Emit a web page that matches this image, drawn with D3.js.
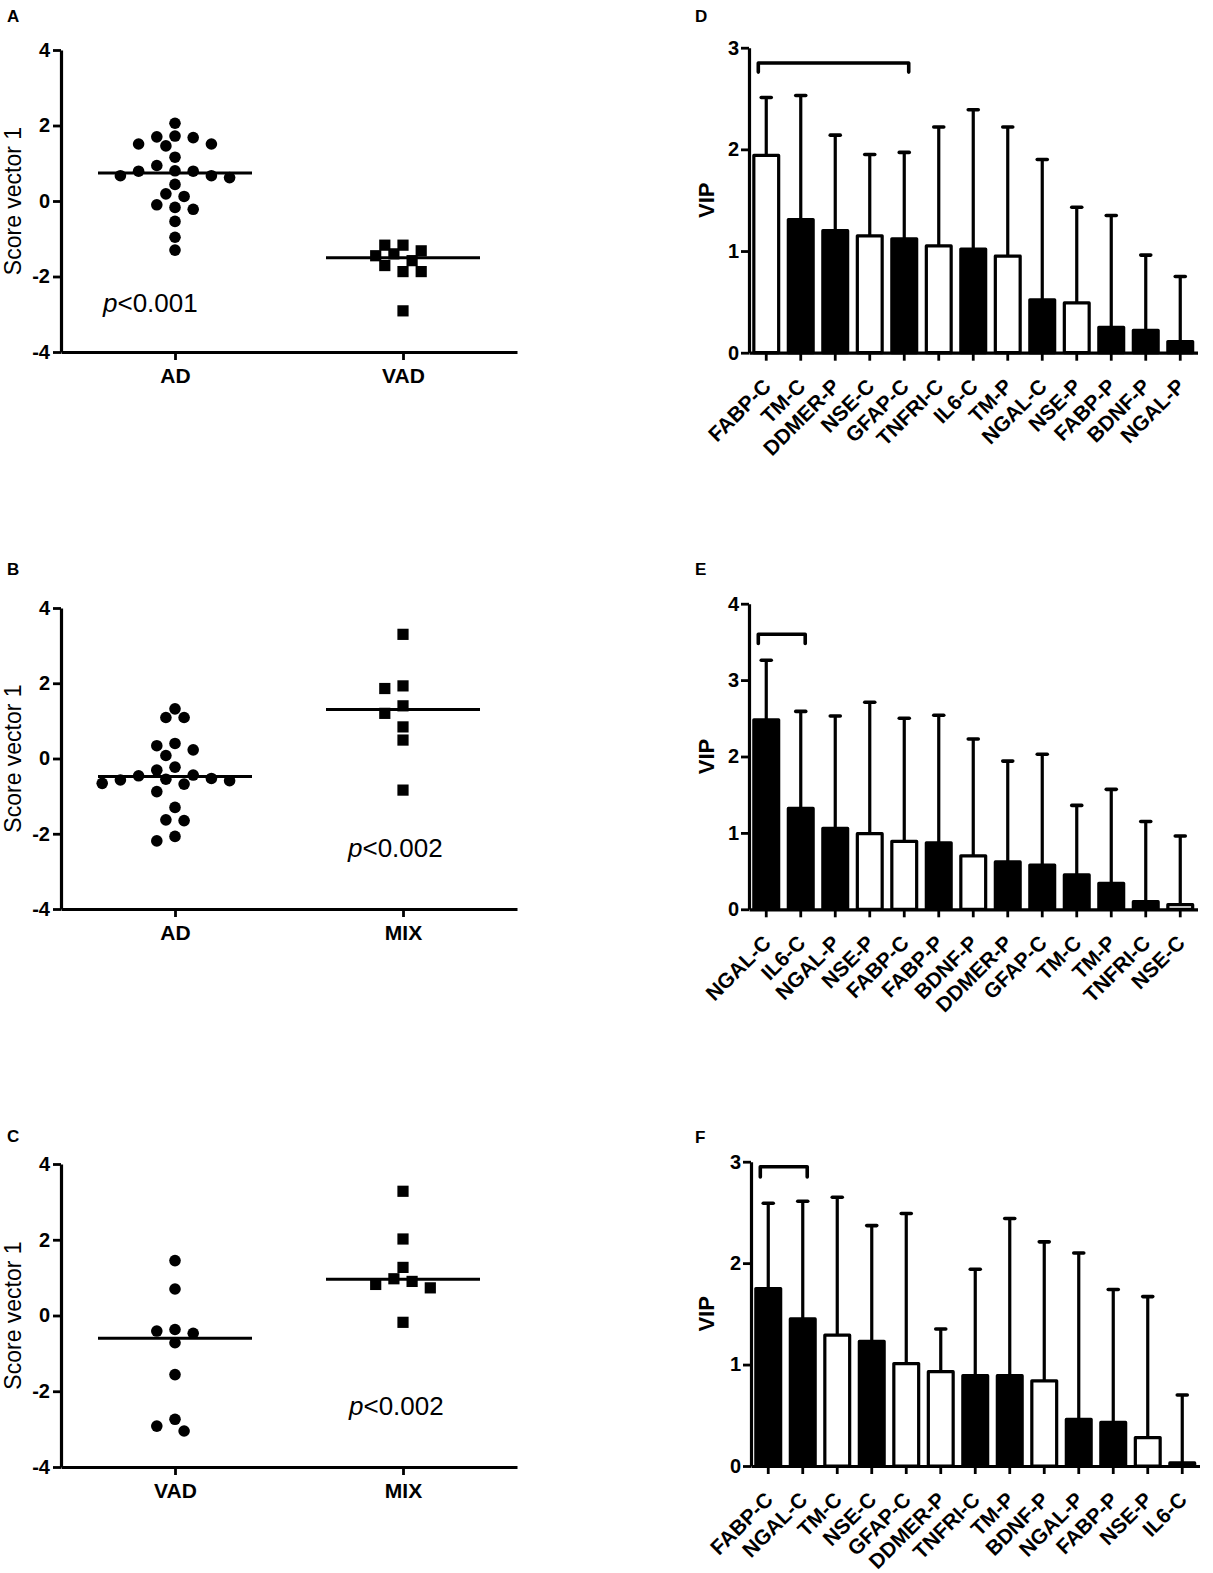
<!DOCTYPE html>
<html>
<head>
<meta charset="utf-8">
<script src="https://cdn.jsdelivr.net/npm/d3@7"></script>
<style>
  body { margin: 0; background: #fff; }
  text { font-family: 'Liberation Sans', Arial, Helvetica, sans-serif; }
</style>
</head>
<body>
<svg id="fig" width="1213" height="1573"></svg>
<script>
// ---- data ----
var scoreTicks = [-4, -2, 0, 2, 4];

// A: AD vs VAD
var groupsA = ["AD", "VAD"];
var scoresA_AD = [2.06, 1.51, 1.70, 1.68, 1.46, 1.72, 1.51, 1.16, 0.80, 0.79, 0.67, 0.44, 0.62, 0.67, 0.79, 0.94,
                  -0.10, -0.22, 0.12, 0.19, -0.17, -0.54, -0.96, -1.30];
var scoresA_VAD = [-1.40, -1.58, -1.17, -1.32, -1.17, -1.87, -1.87, -1.71, -1.45, -2.91];
var mediansA = [0.74, -1.50];

// B: AD vs MIX
var groupsB = ["AD", "MIX"];
var scoresB_AD = [1.09, 1.09, 1.32, 0.40, 0.23, 0.34, 0.08, -0.23, -0.31, -0.53, -0.57, -0.66, -0.46, -0.68,
                  -0.59, -0.55, -0.44, -0.88, -1.30, -1.63, -1.65, -2.19, -2.07];
var scoresB_MIX = [3.30, 1.93, 1.86, 1.40, 1.20, 0.84, 0.49, -0.84];
var mediansB = [-0.48, 1.30];

// C: VAD vs MIX
var groupsC = ["VAD", "MIX"];
var scoresC_VAD = [1.45, 0.70, -0.41, -0.47, -0.37, -0.72, -1.56, -2.74, -2.92, -3.05];
var scoresC_MIX = [3.28, 2.02, 1.27, 0.97, 0.90, 0.82, 0.73, -0.18];
var mediansC = [-0.60, 0.96];

// D
var markersD = ["FABP-C", "TM-C", "DDMER-P", "NSE-C", "GFAP-C", "TNFRI-C", "IL6-C", "TM-P", "NGAL-C", "NSE-P", "FABP-P", "BDNF-P", "NGAL-P"];
var vipD = [1.94, 1.31, 1.20, 1.15, 1.12, 1.05, 1.02, 0.95, 0.52, 0.49, 0.25, 0.22, 0.11];
var vipUpperD = [2.51, 2.53, 2.14, 1.95, 1.97, 2.22, 2.39, 2.22, 1.90, 1.43, 1.35, 0.96, 0.75];
var kindD = [0, 1, 1, 0, 1, 0, 1, 0, 1, 0, 1, 1, 1];
var vipTicksD = [0, 1, 2, 3];

// E
var markersE = ["NGAL-C", "IL6-C", "NGAL-P", "NSE-P", "FABP-C", "FABP-P", "BDNF-P", "DDMER-P", "GFAP-C", "TM-C", "TM-P", "TNFRI-C", "NSE-C"];
var vipE = [2.48, 1.32, 1.06, 0.99, 0.89, 0.87, 0.70, 0.62, 0.58, 0.45, 0.34, 0.10, 0.06];
var vipUpperE = [3.26, 2.59, 2.53, 2.71, 2.50, 2.54, 2.23, 1.94, 2.03, 1.36, 1.57, 1.15, 0.96];
var kindE = [1, 1, 1, 0, 0, 1, 0, 1, 1, 1, 1, 1, 0];
var vipTicksE = [0, 1, 2, 3, 4];

// F
var markersF = ["FABP-C", "NGAL-C", "TM-C", "NSE-C", "GFAP-C", "DDMER-P", "TNFRI-C", "TM-P", "BDNF-P", "NGAL-P", "FABP-P", "NSE-P", "IL6-C"];
var vipF = [1.75, 1.45, 1.29, 1.23, 1.01, 0.93, 0.89, 0.89, 0.84, 0.46, 0.43, 0.28, 0.03];
var vipUpperF = [2.59, 2.61, 2.65, 2.37, 2.49, 1.35, 1.94, 2.44, 2.21, 2.10, 1.74, 1.67, 0.70];
var kindF = [1, 1, 0, 1, 0, 0, 1, 1, 0, 1, 1, 0, 1];
var vipTicksF = [0, 1, 2, 3];

// ---- drawing ----
var svg = d3.select("#fig");
var fillScale = d3.scaleOrdinal().domain([0, 1]).range(["#fff", "#000"]);

function panelLetter(letter, x, y) {
  svg.append("text")
    .attr("x", x).attr("y", y)
    .attr("font-size", 17).attr("font-weight", "bold")
    .text(letter);
}

function styleAxis(g) {
  g.attr("font-family", null).attr("font-size", null);
  g.select(".domain").attr("stroke-width", 3.2);
  g.selectAll(".tick line").attr("stroke-width", 2.8);
  g.selectAll(".tick text")
    .attr("font-size", 20)
    .attr("font-weight", "bold")
    .attr("fill", "#000");
}

// simple dot-plot spreading: keep the value, shift sideways until no overlap
function swarm(vals, y, cx) {
  var step = 9.1, minD = 12.5;
  var order = vals.map(function(v) { return { v: v, y: y(v) }; })
                  .sort(function(a, b) { return b.v - a.v; });
  var placed = [];
  order.forEach(function(p) {
    for (var k = 0; k < 60; k++) {
      var off = k == 0 ? 0 : (k % 2 == 1 ? -(k + 1) / 2 : k / 2);
      var px = cx + off * step;
      var hit = placed.some(function(q) {
        var dx = q.x - px, dy = q.y - p.y;
        return dx * dx + dy * dy < minD * minD;
      });
      if (!hit) { p.x = px; break; }
    }
    placed.push(p);
  });
  return placed;
}

function drawScatter(p) {
  var x = d3.scalePoint().domain(p.groups).range([p.left, p.right]).padding(0.5);
  var y = d3.scaleLinear().domain([-4, 4]).range([p.bottom, p.top]);
  var g = svg.append("g");

  var ya = g.append("g")
    .attr("transform", "translate(" + p.left + ",0)")
    .call(d3.axisLeft(y).tickValues(scoreTicks).tickSize(8).tickSizeOuter(0).tickPadding(3)
      .tickFormat(function(d) { return String(d); }));
  styleAxis(ya);

  var xa = g.append("g")
    .attr("transform", "translate(0," + p.bottom + ")")
    .call(d3.axisBottom(x).tickSize(8).tickSizeOuter(0).tickPadding(8));
  styleAxis(xa);
  xa.selectAll(".tick text").attr("font-size", 21);

  g.append("text")
    .attr("transform", "translate(21," + ((p.top + p.bottom) / 2) + ") rotate(-90)")
    .attr("text-anchor", "middle")
    .attr("font-size", 23)
    .text("Score vector 1");

  p.series.forEach(function(vals, i) {
    var cx = x(p.groups[i]);
    var pts = swarm(vals, y, cx);
    if (p.shapes[i] == "circle") {
      g.selectAll(null).data(pts).enter().append("circle")
        .attr("cx", function(d) { return d.x; })
        .attr("cy", function(d) { return d.y; })
        .attr("r", 5.8)
        .attr("fill", "#000");
    } else {
      g.selectAll(null).data(pts).enter().append("rect")
        .attr("x", function(d) { return d.x - 5.6; })
        .attr("y", function(d) { return d.y - 5.6; })
        .attr("width", 11.2).attr("height", 11.2)
        .attr("fill", "#000");
    }
    g.append("line")
      .attr("x1", cx - 77).attr("x2", cx + 77)
      .attr("y1", y(p.medians[i])).attr("y2", y(p.medians[i]))
      .attr("stroke", "#000").attr("stroke-width", 3);
  });

  var pt = g.append("text")
    .attr("x", p.pX).attr("y", y(p.pY))
    .attr("font-size", 26);
  pt.append("tspan").attr("font-style", "italic").text("p");
  pt.append("tspan").text(p.pText);
}

function drawBars(p) {
  var x = d3.scaleBand().domain(p.names).range([p.left, p.right]).paddingInner(0.28).paddingOuter(0.14);
  var y = d3.scaleLinear().domain([0, d3.max(p.ticks)]).range([p.bottom, p.top]);
  var bw = x.bandwidth();
  var g = svg.append("g");

  var rows = p.names.map(function(n, i) {
    return { name: n, v: p.values[i], up: p.upper[i], kind: p.kinds[i] };
  });

  // error bars first, bars drawn on top
  g.selectAll(null).data(rows).enter().append("line")
    .attr("x1", function(d) { return x(d.name) + bw / 2; })
    .attr("x2", function(d) { return x(d.name) + bw / 2; })
    .attr("y1", function(d) { return y(d.v); })
    .attr("y2", function(d) { return y(d.up); })
    .attr("stroke", "#000").attr("stroke-width", 3.2);
  g.selectAll(null).data(rows).enter().append("line")
    .attr("x1", function(d) { return x(d.name) + bw / 2 - 5; })
    .attr("x2", function(d) { return x(d.name) + bw / 2 + 5; })
    .attr("y1", function(d) { return y(d.up); })
    .attr("y2", function(d) { return y(d.up); })
    .attr("stroke", "#000").attr("stroke-width", 3.6).attr("stroke-linecap", "round");

  g.selectAll(null).data(rows).enter().append("rect")
    .attr("x", function(d) { return x(d.name); })
    .attr("y", function(d) { return y(d.v); })
    .attr("width", bw)
    .attr("height", function(d) { return y(0) - y(d.v); })
    .attr("fill", function(d) { return fillScale(d.kind); })
    .attr("stroke", "#000").attr("stroke-width", 3.2).attr("stroke-linejoin", "round");

  var ya = g.append("g")
    .attr("transform", "translate(" + p.left + ",0)")
    .call(d3.axisLeft(y).tickValues(p.ticks).tickSize(8).tickSizeOuter(0).tickPadding(2)
      .tickFormat(function(d) { return String(d); }));
  styleAxis(ya);

  var xa = g.append("g")
    .attr("transform", "translate(0," + p.bottom + ")")
    .call(d3.axisBottom(x).tickSize(8).tickSizeOuter(0));
  styleAxis(xa);
  xa.selectAll(".tick text")
    .attr("font-size", 21)
    .attr("x", 0).attr("y", 0).attr("dy", 0)
    .attr("text-anchor", "end")
    .attr("transform", "translate(6,35) rotate(-45)");

  g.append("text")
    .attr("transform", "translate(714," + ((p.top + p.bottom) / 2) + ") rotate(-90)")
    .attr("text-anchor", "middle")
    .attr("font-size", 22).attr("font-weight", "bold")
    .text("VIP");

  // bracket over the first bars
  var b = p.bracket;
  var xl = x(p.names[b.from]) + bw * 0.18;
  var xr = x(p.names[b.to]) + bw * 0.68;
  g.append("path")
    .attr("d", "M" + xl + "," + y(b.leg) + "V" + y(b.at) + "H" + xr + "V" + y(b.leg))
    .attr("fill", "none").attr("stroke", "#000").attr("stroke-width", 3.6)
    .attr("stroke-linejoin", "round").attr("stroke-linecap", "round");
}

drawScatter({ groups: groupsA, series: [scoresA_AD, scoresA_VAD], medians: mediansA, shapes: ["circle", "square"],
  left: 61, right: 517, top: 50, bottom: 352, pX: 103, pY: -2.95, pText: "<0.001" });
drawScatter({ groups: groupsB, series: [scoresB_AD, scoresB_MIX], medians: mediansB, shapes: ["circle", "square"],
  left: 61, right: 517, top: 608, bottom: 909, pX: 348, pY: -2.61, pText: "<0.002" });
drawScatter({ groups: groupsC, series: [scoresC_VAD, scoresC_MIX], medians: mediansC, shapes: ["circle", "square"],
  left: 61, right: 517, top: 1164, bottom: 1467, pX: 349, pY: -2.64, pText: "<0.002" });

drawBars({ names: markersD, values: vipD, upper: vipUpperD, kinds: kindD, ticks: vipTicksD,
  left: 749, right: 1197.5, top: 47.7, bottom: 352.7, bracket: { from: 0, to: 4, at: 2.85, leg: 2.76 } });
drawBars({ names: markersE, values: vipE, upper: vipUpperE, kinds: kindE, ticks: vipTicksE,
  left: 749, right: 1197.5, top: 603.7, bottom: 909.3, bracket: { from: 0, to: 1, at: 3.60, leg: 3.48 } });
drawBars({ names: markersF, values: vipF, upper: vipUpperF, kinds: kindF, ticks: vipTicksF,
  left: 751, right: 1199.5, top: 1161.7, bottom: 1466, bracket: { from: 0, to: 1, at: 2.95, leg: 2.85 } });

panelLetter("A", 7, 22);
panelLetter("B", 7, 575);
panelLetter("C", 7, 1142);
panelLetter("D", 695, 22);
panelLetter("E", 695, 575);
panelLetter("F", 695, 1143);
</script>
</body>
</html>
